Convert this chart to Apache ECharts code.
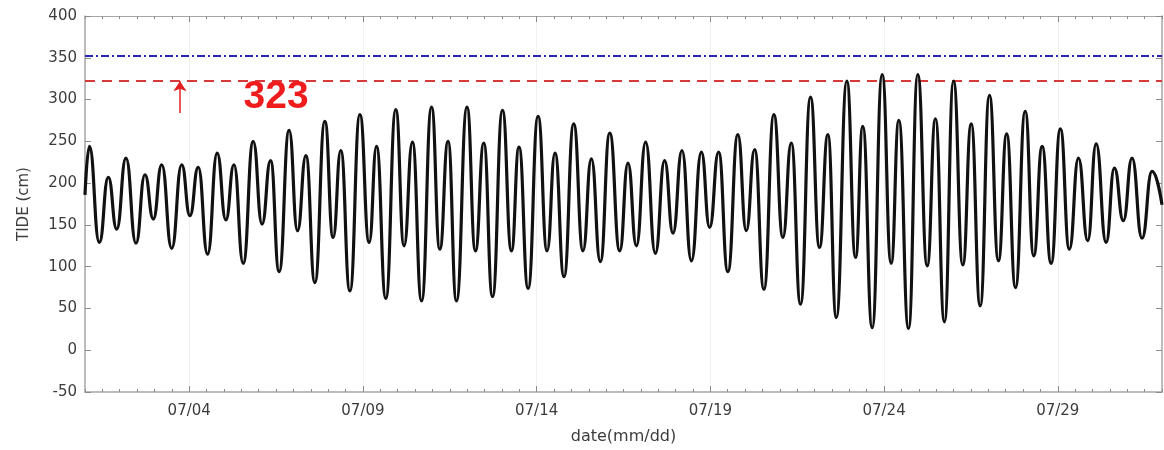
<!DOCTYPE html>
<html>
<head>
<meta charset="utf-8">
<script src="https://cdn.jsdelivr.net/npm/echarts@6/dist/echarts.min.js"></script>
<style>
  html, body { margin: 0; padding: 0; background: #ffffff; }
  #chart { width: 1164px; height: 450px; }
</style>
</head>
<body>
<div id="chart"></div>
<script>
// Tide record, July: turning points (high / low water), hours since 07/01 00:00
const tideHours = [
  0, 3.0, 9.9, 16.1, 21.9, 28.3, 35.2, 41.4, 47.2, 53.0,
  59.9, 66.8, 72.5, 78.2, 84.7, 91.3, 97.3, 102.9, 109.3, 116.2,
  122.3, 128.2, 134.1, 141.0, 146.8, 152.6, 158.8, 165.7, 171.4, 176.7,
  183.0, 189.9, 196.3, 201.4, 207.8, 214.7, 220.4, 226.2, 232.5, 239.4,
  245.1, 250.8, 256.6, 263.9, 269.7, 275.5, 281.5, 288.4, 294.6, 299.8,
  306.1, 313.0, 319.2, 324.7, 330.9, 337.6, 344.0, 349.8, 356.0, 362.5,
  369.4, 375.1, 380.9, 387.3, 394.0, 400.4, 406.2, 412.4, 418.9, 425.8,
  431.5, 437.7, 444.1, 451.0, 456.8, 462.6, 469.0, 475.9, 482.1, 487.9,
  494.3, 501.2, 507.4, 513.2, 519.0, 526.3, 532.3, 537.3, 543.8, 550.7,
  556.9, 562.2, 568.9, 575.3, 581.8, 587.5, 593.7, 600.0, 606.4, 612.2,
  618.4, 624.8, 631.0, 636.7, 642.8, 649.5, 655.4, 661.2, 667.4, 673.8,
  680.0, 686.3, 692.7, 698.5, 705.4, 711.1, 717.3, 723.3, 730.2, 737.1,
  744
];
// Tide level (cm) at each turning point
const tideLevels = [
  186, 244, 129, 207, 145, 230, 128, 210, 157, 222,
  122, 222, 161, 219, 115, 236, 156, 222, 104, 250,
  151, 227, 94, 263, 143, 233, 81, 274, 135, 239,
  71, 282, 129, 244, 62, 288, 125, 249, 59, 291,
  121, 250, 59, 291, 119, 248, 64, 287, 119, 243,
  74, 280, 119, 236, 88, 271, 119, 229, 106, 260,
  119, 224, 125, 249, 116, 227, 140, 239, 107, 237,
  147, 237, 94, 258, 143, 240, 73, 282, 135, 248,
  55, 303, 123, 258, 39, 322, 111, 268, 27, 330,
  104, 275, 26, 330, 101, 277, 34, 322, 102, 271,
  53, 305, 107, 259, 75, 286, 113, 244, 104, 265,
  121, 230, 131, 247, 129, 218, 155, 230, 134, 214,
  174
];

// Date ticks (hours since 07/01 00:00) and their labels
const dateTickHours = [72, 192, 312, 432, 552, 672];
const dateTickLabels = ['07/04', '07/09', '07/14', '07/19', '07/24', '07/29'];
const recordHours = 744;

// Reference levels (cm)
const warningLevel = 323;
const upperLevel = 353;

// Annotation: arrow pointing up at the warning level, and its value label
const arrowHour = 65.6;
const arrowFrom = 284;
const arrowTo = 322;
const labelHour = 132;
const labelLevel = 303;

const tideData = tideHours.map((h, i) => [h, tideLevels[i]]);

const axisGrey = '#a6a6a6';
const tickGrey = '#8c8c8c';
const labelGrey = '#3c3c3c';
const font = 'DejaVu Sans';

function xAxisBase(position) {
  return {
    type: 'value', min: 0, max: recordHours, position: position,
    axisLine: { show: false, onZero: false },
    axisLabel: { show: false }, splitLine: { show: false }
  };
}

const chart = echarts.init(document.getElementById('chart'), null, { renderer: 'canvas' });

chart.setOption({
  animation: false,
  backgroundColor: '#ffffff',
  grid: { left: 85, right: 2, top: 16, bottom: 57, containLabel: false },
  xAxis: [
    Object.assign(xAxisBase('bottom'), {
      axisLine: { show: true, onZero: false, lineStyle: { color: axisGrey, width: 1.5 } },
      axisTick: { show: true, inside: true, length: 6, customValues: dateTickHours, lineStyle: { color: tickGrey } },
      axisLabel: {
        show: true, customValues: dateTickHours, margin: 12,
        formatter: v => dateTickLabels[dateTickHours.indexOf(v)] || '',
        color: labelGrey, fontSize: 15, fontFamily: font
      },
      splitLine: { show: true, lineStyle: { color: '#f0f0f0', width: 1 } },
      name: 'date(mm/dd)', nameLocation: 'middle', nameGap: 37,
      nameTextStyle: { color: labelGrey, fontSize: 16, fontFamily: font }
    }),
    Object.assign(xAxisBase('bottom'), {
      interval: 12,
      axisTick: { show: true, inside: true, length: 3, lineStyle: { color: tickGrey } }
    }),
    Object.assign(xAxisBase('top'), {
      axisLine: { show: true, onZero: false, lineStyle: { color: axisGrey, width: 1 } },
      axisTick: { show: true, inside: true, length: 6, customValues: dateTickHours, lineStyle: { color: tickGrey } }
    }),
    Object.assign(xAxisBase('top'), {
      interval: 12,
      axisTick: { show: true, inside: true, length: 3, lineStyle: { color: tickGrey } }
    })
  ],
  yAxis: [
    {
      type: 'value', min: -50, max: 400, interval: 50, position: 'left',
      axisLine: { show: true, onZero: false, lineStyle: { color: axisGrey, width: 1.5 } },
      axisTick: { show: true, inside: true, length: 6, lineStyle: { color: tickGrey } },
      axisLabel: { color: labelGrey, fontSize: 15, fontFamily: font, margin: 8 },
      splitLine: { show: false },
      name: 'TIDE (cm)', nameLocation: 'middle', nameGap: 53, nameRotate: 90,
      nameTextStyle: { color: labelGrey, fontSize: 15, fontFamily: font }
    },
    {
      type: 'value', min: -50, max: 400, interval: 50, position: 'right',
      axisLine: { show: true, onZero: false, lineStyle: { color: axisGrey, width: 1.5 } },
      axisTick: { show: true, inside: true, length: 6, lineStyle: { color: tickGrey } },
      axisLabel: { show: false },
      splitLine: { show: false }
    }
  ],
  series: [
    {
      name: 'TIDE', type: 'line', xAxisIndex: 0, yAxisIndex: 0,
      data: tideData,
      smooth: 0.5, smoothMonotone: 'x',
      showSymbol: false, symbol: 'none',
      lineStyle: { color: '#111111', width: 3.2 },
      z: 5,
      markLine: {
        silent: true, symbol: ['none', 'none'], animation: false,
        label: { show: false },
        data: [
          { yAxis: upperLevel, lineStyle: { color: '#2626b0', width: 2, type: [8, 3, 2, 3] } },
          { yAxis: warningLevel, lineStyle: { color: '#d63a3a', width: 2, type: [10, 7] } }
        ]
      },
      markPoint: {
        silent: true, animation: false,
        symbol: 'circle', symbolSize: 1,
        itemStyle: { color: 'rgba(0,0,0,0)' },
        label: {
          show: true, position: 'inside',
          formatter: () => String(warningLevel),
          color: '#ee1c1c', fontSize: 39, fontWeight: 'bold',
          fontFamily: "'Liberation Sans', sans-serif"
        },
        data: [{ coord: [labelHour, labelLevel] }]
      }
    },
    {
      name: 'arrow', type: 'line', xAxisIndex: 0, yAxisIndex: 0,
      data: [],
      markLine: {
        silent: true, animation: false,
        symbol: ['none', 'arrow'], symbolSize: 10,
        label: { show: false },
        lineStyle: { color: '#e02020', width: 1.5, type: 'solid' },
        data: [[{ coord: [arrowHour, arrowFrom] }, { coord: [arrowHour, arrowTo] }]]
      }
    }
  ]
});
</script>
</body>
</html>
